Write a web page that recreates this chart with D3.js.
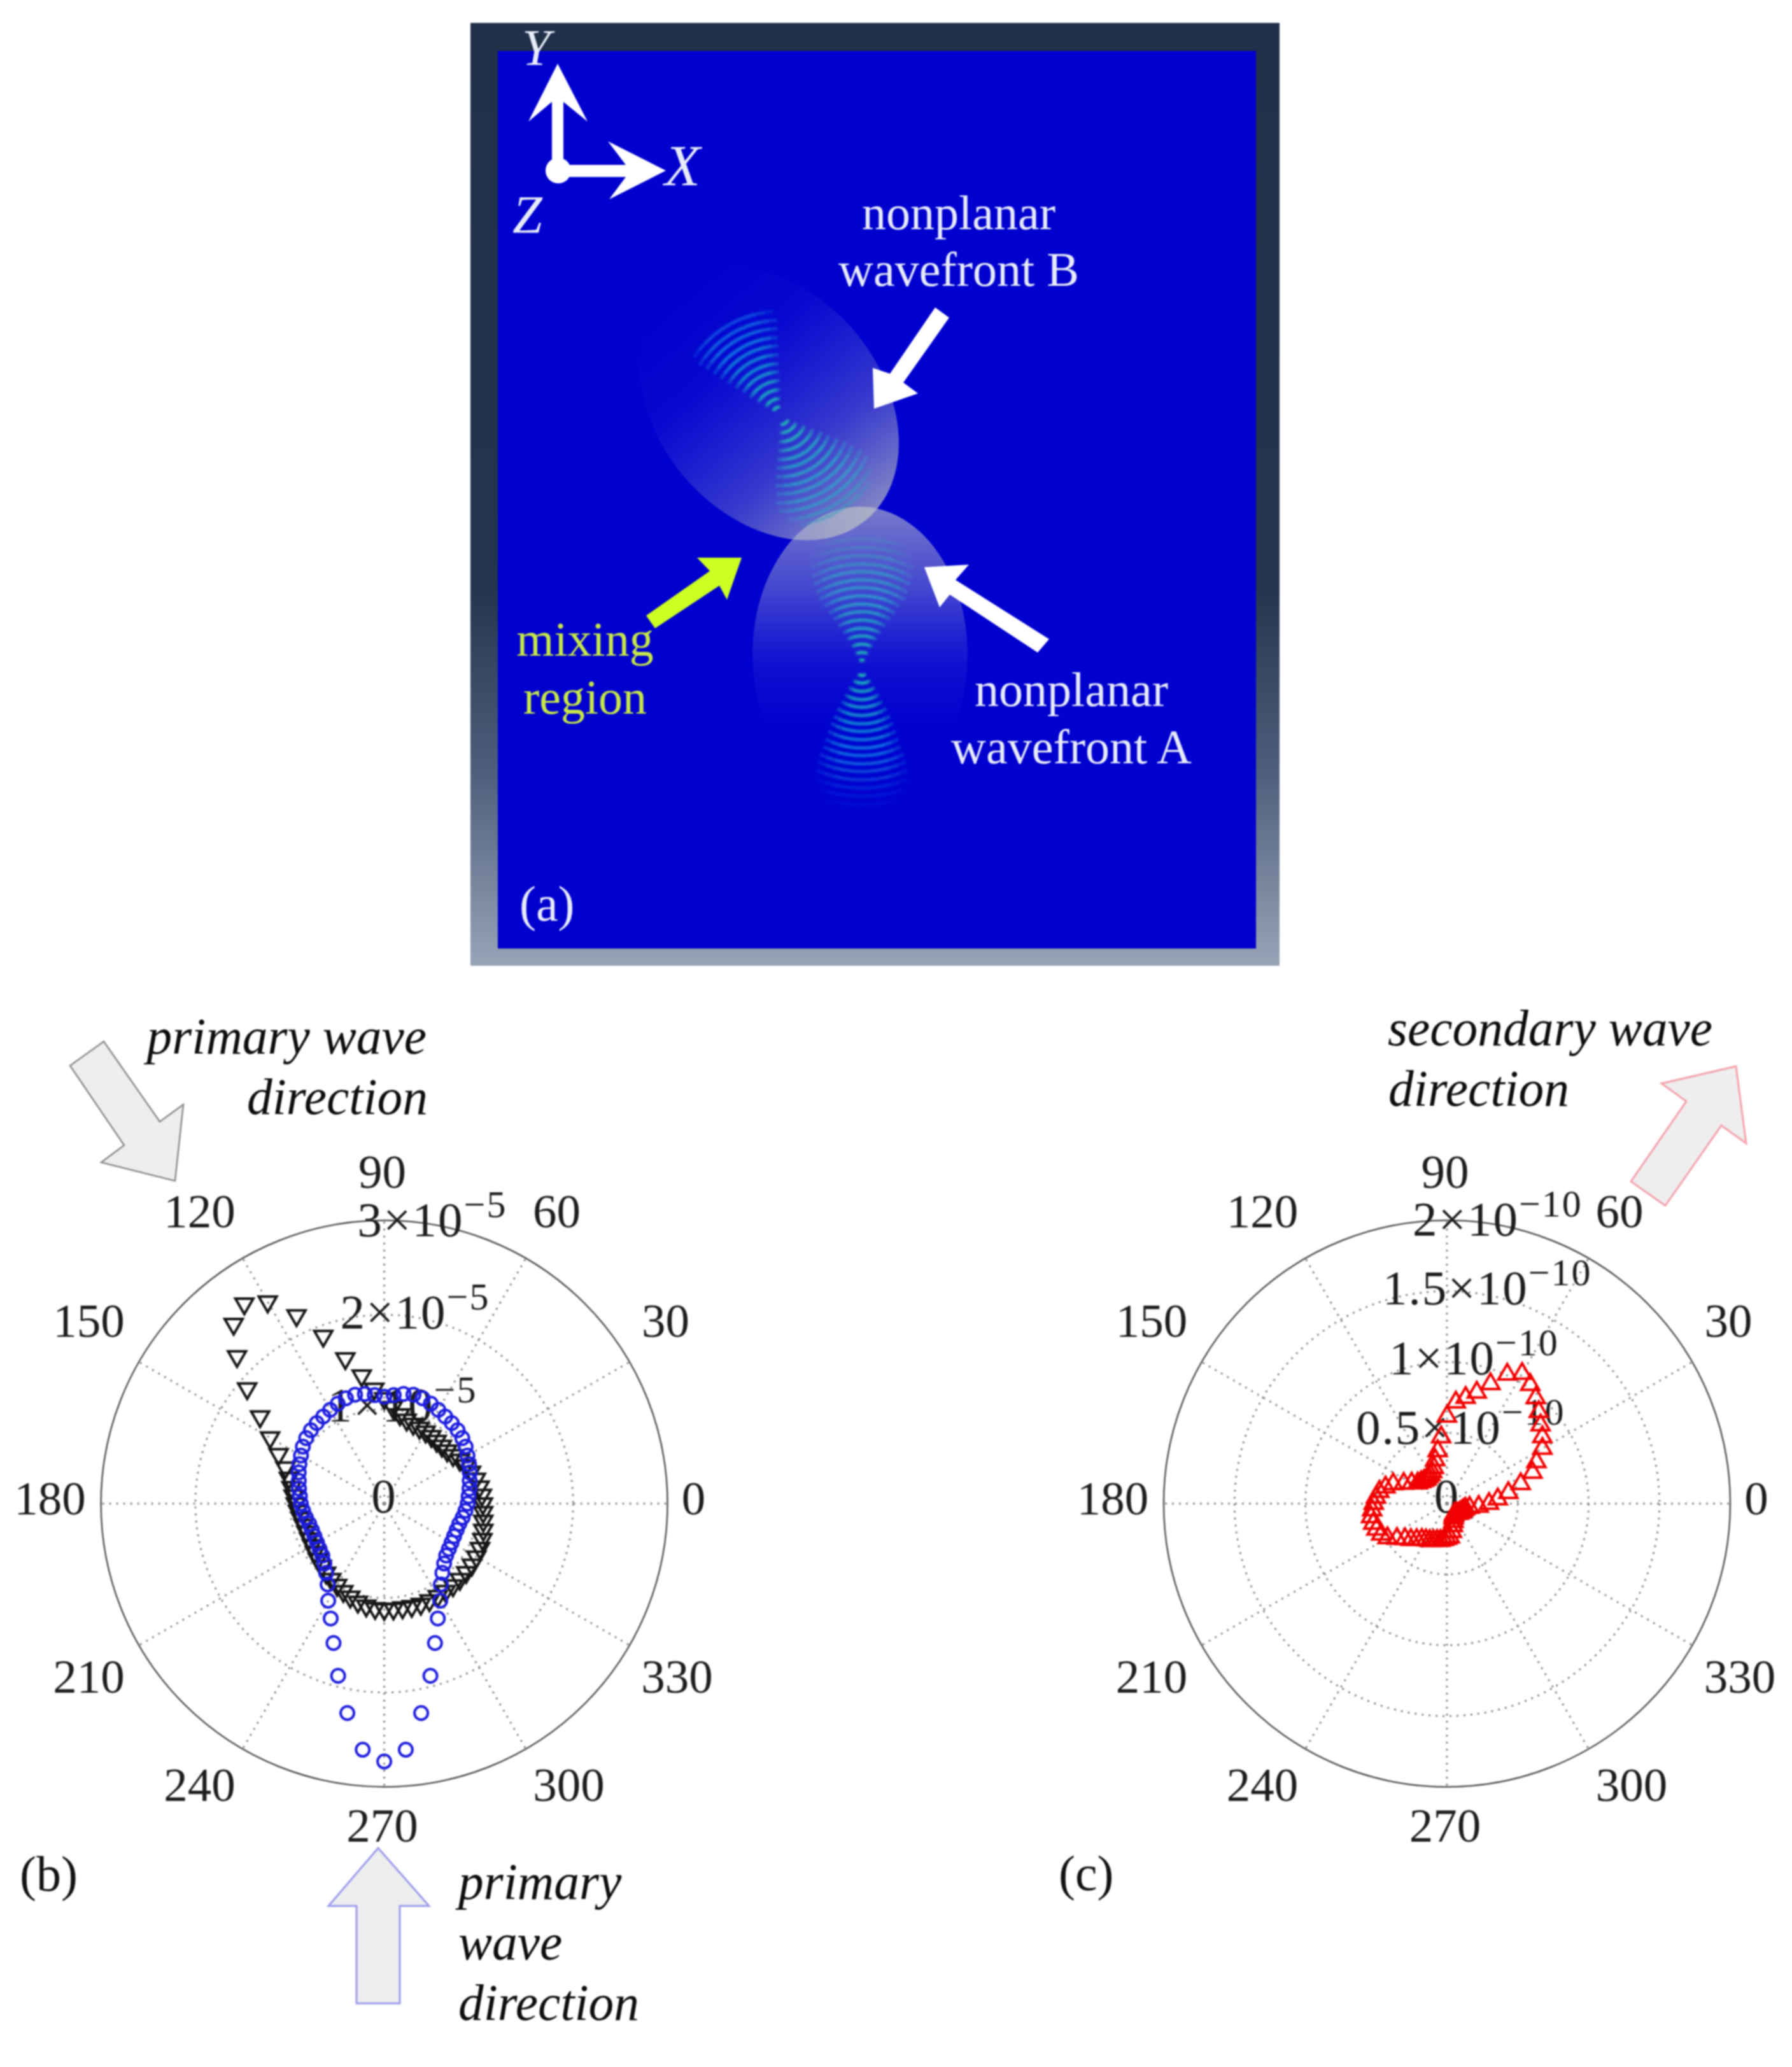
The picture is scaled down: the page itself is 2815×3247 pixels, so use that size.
<!DOCTYPE html>
<html>
<head>
<meta charset="utf-8">
<script src="https://cdn.jsdelivr.net/npm/d3@7"></script>
<style>
	html, body { margin: 0; padding: 0; background: #fff; }
	svg { display: block; filter: blur(1.1px); }
	text { font-family: "Liberation Serif", serif; }
	.tick { font-size: 75px; fill: #1c1c1c; }
	.rlabel { font-size: 77px; fill: #1c1c1c; letter-spacing: 2px; }
	.note { font-size: 79.5px; font-style: italic; fill: #0c0c0c; }
	.panel { font-size: 78px; fill: #111; }
	.wave { font-size: 76px; fill: #e8ecf8; }
</style>
</head>
<body>
<div class="figure"></div>
<script>
// angles of the sampled directions, degrees
var theta = [0,5,10,15,20,25,30,35,40,45,50,55,60,65,70,75,80,85,90,95,100,105,110,115,
	120,125,130,135,140,145,150,155,160,165,170,175,180,185,190,195,200,205,210,215,220,225,230,235,
	240,245,250,255,260,265,270,275,280,285,290,295,300,305,310,315,320,325,330,335,340,345,350,355];

// panel b, units of 1e-5
var primaryB = [0.883,0.897,0.917,0.937,0.964,0.991,1.018,1.052,1.079,1.099,1.113,1.126,1.146,1.167,1.187,1.194,1.18,1.153,
	1.133,1.153,1.18,1.194,1.187,1.167,1.146,1.126,1.113,1.099,1.079,1.052,1.018,0.991,0.964,0.937,0.917,0.897,
	0.883,0.863,0.843,0.823,0.816,0.816,0.823,0.836,0.856,0.897,0.958,1.045,1.187,1.342,1.571,1.888,2.252,2.616,
	2.731,2.616,2.252,1.888,1.571,1.342,1.187,1.045,0.958,0.897,0.856,0.836,0.823,0.816,0.816,0.823,0.843,0.863];
var primaryA = [1.045,1.038,1.025,1.005,0.978,0.951,0.924,0.89,0.87,0.863,0.863,0.87,0.877,0.883,0.897,0.917,0.958,1.025,
	1.113,1.22,1.376,1.591,1.888,2.198,2.468,2.583,2.481,2.205,1.895,1.605,1.396,1.234,1.113,1.045,0.998,0.964,
	0.937,0.917,0.897,0.883,0.877,0.877,0.883,0.897,0.917,0.937,0.958,0.978,0.998,1.025,1.052,1.079,1.099,1.113,
	1.119,1.119,1.119,1.126,1.133,1.133,1.133,1.133,1.133,1.133,1.133,1.133,1.126,1.119,1.106,1.086,1.065,1.052];

// panel c, units of 1e-10
var secondary = [0.297,0.36,0.44,0.539,0.643,0.697,0.778,0.822,0.863,0.917,0.975,1.025,1.061,1.007,0.899,0.813,0.76,0.719,
	0.616,0.472,0.378,0.319,0.27,0.247,0.234,0.229,0.225,0.229,0.238,0.252,0.288,0.337,0.404,0.449,0.485,0.503,
	0.517,0.53,0.544,0.539,0.53,0.512,0.485,0.431,0.387,0.36,0.333,0.31,0.297,0.288,0.279,0.27,0.265,0.256,
	0.247,0.238,0.202,0.162,0.135,0.112,0.099,0.09,0.09,0.099,0.108,0.112,0.117,0.121,0.126,0.135,0.162,0.225];

var angleTicks = [0,30,60,90,120,150,180,210,240,270,300,330];
var ringsB = [1,2,3];
var ringsC = [0.5,1,1.5,2];
var ringLabelsB = [["0",""],["1\u00d710","\u22125"],["2\u00d710","\u22125"],["3\u00d710","\u22125"]];
var ringLabelsC = [["0",""],["0.5\u00d710","\u221210"],["1\u00d710","\u221210"],["1.5\u00d710","\u221210"],["2\u00d710","\u221210"]];

// wave fronts in panel a: ring radii in px from each focus, half width of the beam in degrees
var ringsLowerA = [12,24,37,50,62,75,88,100,113,126,138,151,163,176,189,202,215];
var halfLowerA = [34,34,33,32,31,31,30,29,28,27,26,26,25,24,22,19,15];
var ringsUpperA = [12,24,37,50,62,75,88,100,113,126,138,151,163,176,189,202];
var halfUpperA = [22,24,26,27,28,29,30,31,31,32,31,30,29,27,24,20];
var ringsUpperB = [14,27,41,55,69,82,96,110,123,137,150,164];
var halfUpperB = [30,29,29,29,28,28,28,28,28,28,28,26];
var ringsLowerB = [14,27,41,55,69,82,96,110,123,137,150,164,175];
var halfLowerB = [34,34,35,35,36,36,36,36,35,35,33,28,22];

// layout: tick label offset from the plot centre to the baseline
var tickOffset = {0:[486,17],30:[442,-262],60:[271,-434],90:[-3,-496],120:[-290,-434],150:[-464,-262],
	180:[-525,17],210:[-464,297],240:[-290,467],270:[-3,531],300:[290,467],330:[460,297]};
var radius = 445;
var centreB = [603.6,2362], centreC = [2273,2362];

var svg = d3.select(".figure").append("svg")
	.attr("width", 2815)
	.attr("height", 3247);

var defs = svg.append("defs");

var frameGrad = defs.append("linearGradient").attr("id","frameGrad").attr("x1",0).attr("x2",0).attr("y1",0).attr("y2",1);
[[0,"#1f3048"],[0.6,"#24354f"],[0.8,"#4f607e"],[1,"#98a3b6"]].forEach(function(s){
	frameGrad.append("stop").attr("offset",s[0]).attr("stop-color",s[1]);
});

var gradA = defs.append("linearGradient").attr("id","gradA").attr("x1",0).attr("x2",0).attr("y1",0).attr("y2",1);
[[0,"#c8cdc8",0.6],[0.3,"#b0b8d0",0.36],[0.55,"#8090e0",0.1],[0.75,"#8090e0",0]].forEach(function(s){
	gradA.append("stop").attr("offset",s[0]).attr("stop-color",s[1]).attr("stop-opacity",s[2]);
});

var gradB = defs.append("linearGradient").attr("id","gradB").attr("x1",0).attr("x2",1).attr("y1",0).attr("y2",0);
[[0,"#8090e0",0],[0.3,"#8090e0",0.05],[0.7,"#a8b0c8",0.33],[1,"#c8cdc0",0.66]].forEach(function(s){
	gradB.append("stop").attr("offset",s[0]).attr("stop-color",s[1]).attr("stop-opacity",s[2]);
});

defs.append("filter").attr("id","soft").append("feGaussianBlur").attr("stdDeviation",1.6);

var arrowLine = d3.line().curve(d3.curveLinearClosed);

function drawPanelA() {
	var g = svg.append("g");

	g.append("rect").attr("x",739).attr("y",36).attr("width",1271).attr("height",1481).attr("fill","url(#frameGrad)");
	g.append("rect").attr("x",782).attr("y",80).attr("width",1191).attr("height",1410).attr("fill","#0000cf");

	// ellipses holding the two beams
	g.append("ellipse")
		.attr("cx",1208).attr("cy",634).attr("rx",238).attr("ry",176)
		.attr("transform","rotate(50 1208 634)")
		.attr("fill","url(#gradB)");
	g.append("ellipse")
		.attr("cx",1351).attr("cy",1028).attr("rx",169).attr("ry",232)
		.attr("fill","url(#gradA)");

	var waveColor = d3.scaleLinear().domain([0,60,130,220]).range(["#22e0a8","#18b8c8","#1090e8","#1040e0"]);
	var waveOpacity = d3.scaleLinear().domain([0,150,190,220]).range([1,0.85,0.35,0.12]);
	var arc = d3.arc();

	// every ring is three nested arcs so that its ends fade out
	function drawRings(radii, halves, focus, mid, tint) {
		var layer = g.append("g")
			.attr("transform","translate("+focus+")")
			.attr("filter","url(#soft)");
		[1,0.82,0.62].forEach(function(span){
			layer.append("g").selectAll("path")
				.data(radii)
				.join("path")
				.attr("d", function(d,i){
					var h = halves[i]*span;
					return arc({innerRadius:d-2.6, outerRadius:d+2.6, startAngle:(mid-h)*Math.PI/180, endAngle:(mid+h)*Math.PI/180});
				})
				.attr("fill", function(d){ return tint ? d3.interpolateRgb(waveColor(d), tint)(d/300) : waveColor(d); })
				.attr("opacity", function(d){ return waveOpacity(d)*0.42; });
		});
	}

	drawRings(ringsLowerA,halfLowerA,[1354,1049],180);
	drawRings(ringsUpperA,halfUpperA,[1354,1049],0,"#50c8a0");
	drawRings(ringsUpperB,halfUpperB,[1226,653],-30);
	drawRings(ringsLowerB,halfLowerB,[1226,653],148,"#50c8a0");

	// annotation arrows
	var white = [
		[[1469,483],[1491,499],[1419,601],[1442,618],[1373,642],[1371,578],[1398,587]],
		[[1452,891],[1522,887],[1501,911],[1648,1004],[1630,1025],[1492,934],[1476,954]]
	];
	g.selectAll("path.pointer").data(white).join("path").attr("class","pointer").attr("d",arrowLine).attr("fill","#fff");
	g.append("path")
		.attr("d",arrowLine([[1015,967],[1115,897],[1095,876],[1165,876],[1142,942],[1130,920],[1029,987]]))
		.attr("fill","#ccff22");

	// axes triad
	g.append("path").attr("d",arrowLine([[876,100],[923,191],[885,160],[885,268],[867,268],[867,160],[830,191]])).attr("fill","#fff");
	g.append("path").attr("d",arrowLine([[1046,268],[957,313],[983,278],[877,278],[877,259],[983,259],[955,222]])).attr("fill","#fff");
	g.append("circle").attr("cx",877).attr("cy",268).attr("r",20).attr("fill","#fff");

	[["Y",820,102,80],["X",1044,291,92],["Z",805,366,84]].forEach(function(t){
		g.append("text").attr("class","wave").attr("x",t[1]).attr("y",t[2])
			.style("font-style","italic").style("font-size",t[3]+"px").text(t[0]);
	});

	[["nonplanar",1506,360],["wavefront B",1506,449],["nonplanar",1683,1109],["wavefront A",1683,1199]].forEach(function(t){
		g.append("text").attr("class","wave").attr("x",t[1]).attr("y",t[2]).attr("text-anchor","middle").text(t[0]);
	});
	[["mixing",919,1030],["region",919,1121]].forEach(function(t){
		g.append("text").attr("class","wave").attr("x",t[1]).attr("y",t[2]).attr("text-anchor","middle")
			.style("fill","#c8e848").text(t[0]);
	});
	g.append("text").attr("class","wave").attr("x",816).attr("y",1446).style("font-size","78px").text("(a)");
}

function drawPolar(centre, domainMax, rings, ringLabels, ringLabelX, ringLabelY) {
	var r = d3.scaleLinear().domain([0,domainMax]).range([0,radius]);
	var a = d3.scaleLinear().domain([0,360]).range([Math.PI/2, Math.PI/2 - 2*Math.PI]);

	var g = svg.append("g").attr("transform","translate("+centre+")");

	g.selectAll("line.spoke").data(angleTicks).join("line")
		.attr("class","spoke")
		.attr("x2", function(d){ return d3.pointRadial(a(d), radius)[0]; })
		.attr("y2", function(d){ return d3.pointRadial(a(d), radius)[1]; })
		.attr("stroke","#8a8a8a").attr("stroke-width",3).attr("stroke-dasharray","3 8");

	g.selectAll("circle.ring").data(rings.slice(0,-1)).join("circle")
		.attr("class","ring")
		.attr("r", function(d){ return r(d); })
		.attr("fill","none")
		.attr("stroke","#8a8a8a").attr("stroke-width",3).attr("stroke-dasharray","3 8");

	g.append("circle").attr("r",radius).attr("fill","none").attr("stroke","#555").attr("stroke-width",2.5);

	g.selectAll("text.tick").data(angleTicks).join("text")
		.attr("class","tick")
		.attr("text-anchor","middle")
		.attr("x", function(d){ return tickOffset[d][0]; })
		.attr("y", function(d){ return tickOffset[d][1]; })
		.text(function(d){ return d; });

	var labels = g.selectAll("text.rlabel").data(ringLabels).join("text")
		.attr("class","rlabel")
		.attr("x", function(d,i){ return ringLabelX[i]; })
		.attr("y", function(d,i){ return ringLabelY[i]; })
		.attr("text-anchor", function(d,i){ return i ? "start" : "middle"; });
	labels.append("tspan").text(function(d){ return d[0]; });
	labels.append("tspan").attr("dy",-30).style("font-size","60px").text(function(d){ return d[1]; });

	return {
		g: g,
		place: function(d){ return "translate(" + d3.pointRadial(a(d[0]), r(d[1])) + ")"; }
	};
}

function zipSeries(values) {
	return theta.map(function(t,i){ return [t, values[i]]; });
}

function drawPanelB() {
	var p = drawPolar(centreB, 3, ringsB, ringLabelsB, [0,-89,-69,-42], [14,-129,-275,-420]);
	var tri = d3.symbol().type(d3.symbolTriangle).size(340)();

	p.g.selectAll("path.a").data(zipSeries(primaryA)).join("path")
		.attr("class","a")
		.attr("d",tri)
		.attr("transform", function(d){ return p.place(d) + " rotate(180)"; })
		.attr("fill","none").attr("stroke","#151515").attr("stroke-width",4);

	p.g.selectAll("circle.b").data(zipSeries(primaryB)).join("circle")
		.attr("class","b")
		.attr("r",10.5)
		.attr("transform", p.place)
		.attr("fill","none").attr("stroke","#1c1cdd").attr("stroke-width",4);

	svg.append("path")
		.attr("d",arrowLine([[163,1636],[110,1674],[195,1799],[159,1826],[275,1855],[288,1735],[251,1762]]))
		.attr("fill","#eeeeee").attr("stroke","#8a8a8a").attr("stroke-width",2.5);
	svg.append("path")
		.attr("d",arrowLine([[594,2903],[674,2994],[628,2994],[628,3147],[560,3147],[560,2994],[516,2994]]))
		.attr("fill","#eeeeee").attr("stroke","#9a9aee").attr("stroke-width",3);

	[["primary wave",670,1655],["direction",672,1750]].forEach(function(t){
		svg.append("text").attr("class","note").attr("x",t[1]).attr("y",t[2]).attr("text-anchor","end").text(t[0]);
	});
	[["primary",720,2983],["wave",720,3078],["direction",720,3173]].forEach(function(t){
		svg.append("text").attr("class","note").attr("x",t[1]).attr("y",t[2]).text(t[0]);
	});
	svg.append("text").attr("class","panel").attr("x",31).attr("y",2970).text("(b)");
}

function drawPanelC() {
	var p = drawPolar(centreC, 2, ringsC, ringLabelsC, [0,-143,-91,-101,-54], [14,-94,-203,-313,-421]);
	var tri = d3.symbol().type(d3.symbolTriangle).size(340)();

	p.g.selectAll("path.c").data(zipSeries(secondary)).join("path")
		.attr("class","c")
		.attr("d",tri)
		.attr("transform", p.place)
		.attr("fill","none").attr("stroke","#f00000").attr("stroke-width",4);

	svg.append("path")
		.attr("d",arrowLine([[2727,1675],[2610,1702],[2649,1730],[2562,1856],[2616,1894],[2704,1768],[2743,1796]]))
		.attr("fill","#eeeeee").attr("stroke","#f5a0aa").attr("stroke-width",3);

	[["secondary wave",2180,1642],["direction",2181,1737]].forEach(function(t){
		svg.append("text").attr("class","note").attr("x",t[1]).attr("y",t[2]).text(t[0]);
	});
	svg.append("text").attr("class","panel").attr("x",1663).attr("y",2969).text("(c)");
}

drawPanelA();
drawPanelB();
drawPanelC();
</script>
</body>
</html>
